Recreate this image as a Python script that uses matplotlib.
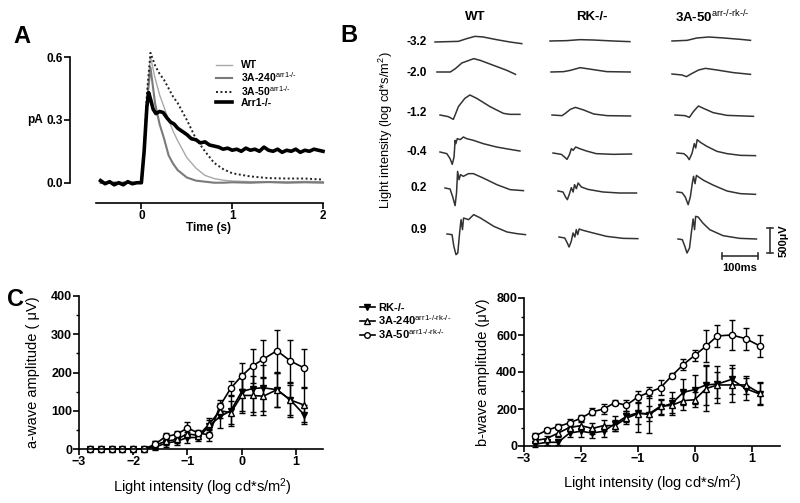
import matplotlib
matplotlib.use('Agg')
import matplotlib.pyplot as plt
from matplotlib.ticker import MultipleLocator

plt.rcParams['font.family'] = ['Liberation Sans', 'DejaVu Sans']
plt.rcParams['mathtext.fontset'] = 'custom'
plt.rcParams['mathtext.rm'] = 'Liberation Sans'
plt.rcParams['mathtext.it'] = 'Liberation Sans:italic'
plt.rcParams['mathtext.bf'] = 'Liberation Sans:bold'

# ---------------- panel A: single cell responses (pA vs s)
a_t_fast = [-0.45, 0.0, 0.03, 0.06, 0.1, 0.15, 0.2, 0.25, 0.3, 0.35, 0.4, 0.5, 0.6,
            0.7, 0.8, 0.9, 1.0, 1.2, 1.4, 1.6, 1.8, 2.0]
a_wt = [0, 0, 0.15, 0.4, 0.6, 0.5, 0.42, 0.36, 0.3, 0.245, 0.2, 0.12, 0.07,
        0.035, 0.02, 0.012, 0.008, 0.005, 0.005, 0.004, 0.006, 0.005]
a_3a240 = [0, 0, 0.15, 0.38, 0.55, 0.38, 0.28, 0.21, 0.13, 0.09, 0.06, 0.025, 0.01,
           0.005, 0.0, 0.0, 0.002, 0.0, 0.003, 0.0, 0.002, 0.0]
a_3a50 = [0, 0, 0.15, 0.42, 0.62, 0.56, 0.52, 0.49, 0.45, 0.41, 0.38, 0.3, 0.21,
          0.15, 0.095, 0.065, 0.045, 0.03, 0.022, 0.02, 0.02, 0.015]
a_t_arr1 = [-0.45, -0.4, -0.35, -0.3, -0.25, -0.2, -0.15, -0.1, -0.05, 0.0, 0.03, 0.06,
            0.08, 0.1, 0.13, 0.16, 0.2, 0.24, 0.28, 0.32, 0.36, 0.4, 0.45, 0.5, 0.55,
            0.6, 0.65, 0.7, 0.75, 0.8, 0.85, 0.9, 0.95, 1.0, 1.05, 1.1, 1.15, 1.2, 1.25,
            1.3, 1.35, 1.4, 1.45, 1.5, 1.55, 1.6, 1.65, 1.7, 1.75, 1.8, 1.85, 1.9, 1.95, 2.0]
a_arr1 = [0.01, -0.005, 0.005, -0.01, 0.0, -0.01, 0.005, -0.005, 0.0, 0.0, 0.15, 0.36,
          0.43, 0.40, 0.35, 0.33, 0.34, 0.335, 0.31, 0.29, 0.28, 0.26, 0.245, 0.23, 0.21,
          0.205, 0.19, 0.195, 0.18, 0.175, 0.17, 0.16, 0.165, 0.155, 0.16, 0.15, 0.165, 0.155, 0.16,
          0.15, 0.17, 0.155, 0.15, 0.16, 0.145, 0.155, 0.15, 0.16, 0.145, 0.155, 0.15, 0.16, 0.155, 0.15]

# ---------------- panel B: ERG traces (ms after trace start, uV from baseline)
b_cols = ['WT', 'RK-/-', r'3A-50$^{\text{arr-/-rk-/-}}$']
b_rows = ['-3.2', '-2.0', '-1.2', '-0.4', '0.2', '0.9']
b_t = [
    [[0, 65, 88, 111, 134, 171, 208, 241],
     [0, 37, 51, 69, 102, 120, 157, 194, 218],
     [0, 23, 37, 42, 51, 69, 83, 102, 139, 176, 194, 222],
     [0, 19, 28, 34, 39, 42, 44, 48, 56, 65, 74, 93, 120, 157, 194, 222],
     [0, 14, 21, 28, 32, 35, 39, 43, 51, 65, 79, 106, 144, 181, 218],
     [0, 14, 19, 25, 30, 35, 39, 43, 46, 60, 74, 93, 130, 167, 194, 218]],
    [[0, 46, 83, 120, 176, 222],
     [0, 35, 54, 81, 118, 155, 220],
     [0, 28, 37, 51, 65, 88, 116, 153, 218],
     [0, 23, 32, 39, 46, 51, 56, 63, 74, 93, 120, 167, 218],
     [0, 14, 21, 26, 32, 37, 42, 46, 51, 56, 65, 83, 125, 171, 218],
     [0, 16, 23, 28, 34, 39, 44, 48, 52, 56, 67, 95, 132, 178, 219]],
    [[0, 42, 69, 102, 144, 190, 218],
     [0, 28, 40, 56, 74, 93, 125, 171, 218],
     [0, 28, 40, 51, 65, 79, 106, 144, 218],
     [0, 19, 28, 34, 42, 48, 52, 56, 65, 83, 111, 139, 176, 218],
     [0, 14, 23, 31, 37, 43, 46, 50, 54, 60, 74, 102, 139, 176, 218],
     [0, 12, 19, 25, 32, 37, 42, 46, 49, 56, 69, 88, 125, 171, 218]],
]
b_v = [
    [[0, 13, 67, 113, 100, 47, 0, -33],
     [0, 0, 67, 180, 267, 233, 133, 33, -47],
     [0, -33, -87, 0, 167, 333, 400, 333, 167, 33, 13, 13],
     [0, -33, -133, -247, -100, 233, 167, 267, 247, 300, 267, 233, 167, 100, 53, 20],
     [0, -20, -167, -353, -100, 333, 167, 267, 233, 287, 287, 200, 67, -33, -53],
     [0, -13, -247, -413, -380, 20, 287, 87, 320, 287, 387, 320, 153, 40, 7, -13]],
    [[0, 7, 27, 20, 0, -13],
     [0, 7, 33, 87, 47, 7, 0],
     [0, -13, 33, 113, 153, 100, 20, -13, -20],
     [0, -27, -80, -127, -27, 87, 53, 120, 87, 40, -13, -27, -20],
     [0, -20, -120, -173, -53, 67, -20, 127, 47, 160, 80, 33, -20, -40, -40],
     [0, -20, -120, -200, -87, 80, 0, 147, 47, 160, 133, 80, 13, -27, -33]],
    [[0, 13, 60, 80, 60, 33, 13],
     [0, -20, -53, 13, 80, 113, 80, 27, -7],
     [0, -13, -47, 67, 180, 133, 47, -7, -27],
     [0, -13, -67, -133, 0, 187, 100, 267, 213, 133, 33, -13, -47, -53],
     [0, -13, -100, -253, -100, 200, 313, 167, 333, 300, 233, 133, 20, -33, -47],
     [0, -13, -147, -280, -180, 120, 400, 187, 453, 440, 320, 187, 67, 13, 0]],
]

# ---------------- panel C: intensity-response (log cd*s/m2)
c_x = [-2.8, -2.6, -2.4, -2.2, -2.0, -1.8, -1.6, -1.4, -1.2, -1.0, -0.8, -0.6,
       -0.4, -0.2, 0.0, 0.2, 0.4, 0.65, 0.9, 1.15]
aw_rk = [0, 0, 0, 0, 0, 0, 5, 15, 20, 30, 30, 60, 85, 100, 150, 158, 160, 155, 128, 90]
aw_rk_err = [2, 2, 2, 2, 2, 2, 8, 10, 10, 15, 10, 15, 30, 40, 50, 60, 60, 45, 40, 25]
aw_240 = [0, 0, 0, 0, 0, 0, 10, 20, 25, 40, 35, 65, 100, 95, 140, 140, 138, 155, 128, 115]
aw_240_err = [2, 2, 2, 2, 2, 2, 10, 10, 10, 10, 10, 15, 20, 30, 45, 50, 50, 45, 45, 45]
aw_50 = [0, 0, 0, 0, 0, 0, 12, 33, 38, 55, 42, 37, 113, 159, 191, 217, 235, 257, 230, 212]
aw_50_err = [2, 2, 2, 2, 2, 2, 10, 10, 8, 15, 8, 15, 15, 20, 35, 45, 50, 55, 55, 50]

bw_rk = [10, 20, 20, 70, 80, 70, 80, 120, 160, 180, 170, 210, 230, 290, 305, 330, 335, 360, 310, 280]
bw_rk_err = [15, 15, 15, 20, 30, 25, 30, 40, 30, 60, 100, 40, 60, 70, 80, 110, 100, 80, 60, 60]
bw_240 = [30, 40, 70, 100, 110, 95, 110, 110, 150, 175, 175, 215, 220, 245, 250, 310, 330, 330, 330, 285]
bw_240_err = [15, 15, 20, 20, 25, 30, 30, 30, 30, 100, 40, 40, 40, 50, 40, 120, 70, 90, 50, 60]
bw_50 = [55, 85, 105, 125, 150, 185, 200, 235, 220, 265, 290, 315, 380, 440, 490, 540, 595, 600, 580, 540]
bw_50_err = [15, 15, 15, 20, 20, 20, 25, 15, 30, 35, 30, 40, 15, 30, 30, 85, 60, 80, 60, 60]

W, H = 800, 503
fig = plt.figure(figsize=(W / 100, H / 100), dpi=100)


def box(x0, y0, x1, y1):
    return [x0 / W, 1 - y1 / H, (x1 - x0) / W, (y1 - y0) / H]


def ftext(x, y, s, **kw):
    kw.setdefault('ha', 'center')
    kw.setdefault('va', 'center')
    return fig.text(x / W, 1 - y / H, s, **kw)


def style_axis(ax, size=8):
    for side in ['top', 'right']:
        ax.spines[side].set_visible(False)
    for side in ['left', 'bottom']:
        ax.spines[side].set_linewidth(1.2)
    ax.tick_params(direction='out', length=4, width=1.2, pad=1, labelsize=size)
    ax.tick_params(which='minor', direction='out', length=2, width=1)
    for lab in ax.get_xticklabels() + ax.get_yticklabels():
        lab.set_fontweight('bold')


# ---- A
axA = fig.add_axes(box(96, 57, 323, 189))
axA.plot(a_t_fast, a_wt, color='#a8a8a8', lw=1.0, label='WT', clip_on=False)
axA.plot(a_t_fast, a_3a240, color='#7a7a7a', lw=1.5, label=r'3A-240$^{\text{arr1-/-}}$', clip_on=False)
axA.plot(a_t_fast, a_3a50, color='#222222', lw=1.4, ls=(0, (1, 1.3)), label=r'3A-50$^{\text{arr1-/-}}$', clip_on=False)
axA.plot(a_t_arr1, a_arr1, color='black', lw=2.6, label='Arr1-/-', clip_on=False)
axA.set_xlim(-0.5, 2)
axA.set_ylim(-0.03, 0.6)
axA.set_xticks([0, 1, 2])
axA.set_yticks([0, 0.3, 0.6])
axA.set_yticklabels(['0.0', '0.3', '0.6'])
axA.spines['left'].set_position(('outward', 18.7))
axA.spines['left'].set_bounds(0, 0.6)
axA.spines['bottom'].set_position(('outward', 10))
style_axis(axA, 8.5)
legA = axA.legend(loc='upper left', bbox_to_anchor=(211 / W, 1 - 55 / H),
                  bbox_transform=fig.transFigure, frameon=False, fontsize=7.5,
                  handlelength=1.5, handletextpad=0.9, labelspacing=0.0, borderpad=0)
for txt in legA.get_texts():
    txt.set_fontweight('bold')
ftext(22, 37, 'A', fontsize=17, fontweight='bold')
ftext(35, 120, 'pA', fontsize=8.5, fontweight='bold')
ftext(208, 228, 'Time (s)', fontsize=8.5, fontweight='bold')

# ---- B
b_x0 = [[95, 97, 100, 100, 105, 107],
        [210, 211, 212, 213, 218, 219],
        [332, 332, 335, 337, 337, 338]]
b_y0 = [[42, 72, 115, 152, 188, 234],
        [41, 72, 115, 153, 191, 237],
        [41, 74, 115, 153, 192, 239]]
ms_px, uv_px = 0.36, 0.05
axB = fig.add_axes(box(340, 0, 800, 290))
axB.set_xlim(0, 460 / ms_px)
axB.set_ylim(-290 / uv_px, 0)
axB.axis('off')
for c in range(3):
    for r in range(6):
        x0 = b_x0[c][r] / ms_px
        y0 = -b_y0[c][r] / uv_px
        axB.plot([x0 + t for t in b_t[c][r]], [y0 + v for v in b_v[c][r]],
                 color='#333333', lw=1.1)
# scale bars
sx, sy = 430 / ms_px, -228 / uv_px
axB.plot([sx, sx], [sy, sy - 500], color='#333333', lw=1.2)
axB.plot([sx - 8, sx + 8], [sy, sy], color='#333333', lw=1.2)
axB.plot([sx - 8, sx + 8], [sy - 500, sy - 500], color='#333333', lw=1.2)
hx, hy = 382 / ms_px, -256 / uv_px
axB.plot([hx, hx + 100], [hy, hy], color='#333333', lw=1.2)
axB.plot([hx, hx], [hy - 60, hy + 60], color='#333333', lw=1.2)
axB.plot([hx + 100, hx + 100], [hy - 60, hy + 60], color='#333333', lw=1.2)
ftext(740, 268, '100ms', fontsize=8, fontweight='bold')
ftext(784, 241, '500µV', fontsize=8, fontweight='bold', rotation=90)

ftext(349, 36, 'B', fontsize=17, fontweight='bold')
for c, xc in enumerate([475, 592, 712]):
    ftext(xc, 17, b_cols[c], fontsize=9.5, fontweight='bold')
for r, yr in enumerate([42, 73, 113, 152, 188, 230]):
    ftext(427, yr, b_rows[r], fontsize=8.5, fontweight='bold', ha='right')
ftext(386, 130, r'Light intensity (log cd*s/m$^2$)', fontsize=9.3, rotation=90)

# ---- C
mk = dict(color='black', lw=1.2, elinewidth=1.0, capsize=2.5, capthick=1.0,
          markersize=4.5, clip_on=False)
axL = fig.add_axes(box(79, 296, 323, 449))
axL.errorbar(c_x, aw_rk, yerr=aw_rk_err, marker='v', mfc='black', **mk)
axL.errorbar(c_x, aw_240, yerr=aw_240_err, marker='^', mfc='white', **mk)
axL.errorbar(c_x, aw_50, yerr=aw_50_err, marker='o', mfc='white', **mk)
axL.set_xlim(-3, 1.5)
axL.set_ylim(0, 400)
axL.set_xticks([-3, -2, -1, 0, 1])
axL.set_yticks([0, 100, 200, 300, 400])
axL.yaxis.set_minor_locator(MultipleLocator(50))
style_axis(axL, 9)

axR = fig.add_axes(box(524, 298, 780, 446))
h1 = axR.errorbar(c_x, bw_rk, yerr=bw_rk_err, marker='v', mfc='black', **mk)
h2 = axR.errorbar(c_x, bw_240, yerr=bw_240_err, marker='^', mfc='white', **mk)
h3 = axR.errorbar(c_x, bw_50, yerr=bw_50_err, marker='o', mfc='white', **mk)
axR.set_xlim(-3, 1.5)
axR.set_ylim(0, 800)
axR.set_xticks([-3, -2, -1, 0, 1])
axR.set_yticks([0, 200, 400, 600, 800])
axR.yaxis.set_minor_locator(MultipleLocator(100))
style_axis(axR, 9)

legC = fig.legend([h1[0], h2[0], h3[0]],
                  ['RK-/-', r'3A-240$^{\text{arr1-/-rk-/-}}$', r'3A-50$^{\text{arr1-/-rk-/-}}$'],
                  loc='upper left', bbox_to_anchor=(354 / W, 1 - 297 / H), frameon=False,
                  fontsize=8, handlelength=1.4, handletextpad=0.3, labelspacing=0.05,
                  borderpad=0, markerscale=0.9)
for txt in legC.get_texts():
    txt.set_fontweight('bold')

ftext(16, 299, 'C', fontsize=17, fontweight='bold')
ftext(33, 372, 'a-wave amplitude ( μV)', fontsize=10.5, rotation=90)
ftext(202, 487, r'Light intensity (log cd*s/m$^2$)', fontsize=10.5)
ftext(483, 372, 'b-wave amplitude (μV)', fontsize=10.5, rotation=90)
ftext(652, 483, r'Light intensity (log cd*s/m$^2$)', fontsize=10.5)

fig.savefig('out.png', dpi=100)
